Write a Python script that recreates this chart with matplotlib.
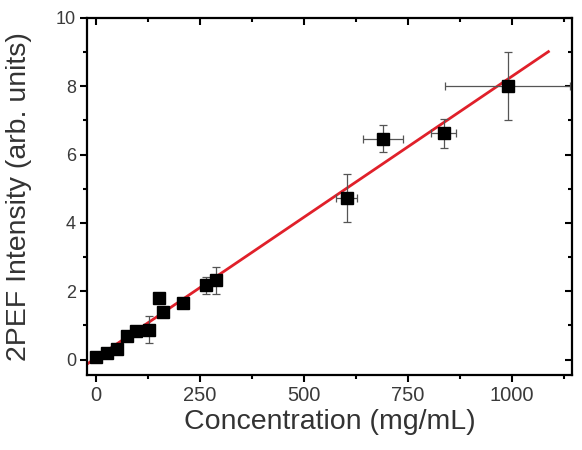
import numpy as np
import matplotlib
matplotlib.use('Agg')
import matplotlib.pyplot as plt
from matplotlib.ticker import MultipleLocator

plt.rcParams['font.family'] = ['Liberation Sans', 'DejaVu Sans']

# measured data (concentration in mg/mL, 2PEF intensity)
conc = [0, 25, 49, 75, 97, 126, 150, 162, 210, 265, 289, 603, 690, 836, 990]
intensity = [0.08, 0.2, 0.32, 0.68, 0.85, 0.88, 1.8, 1.4, 1.65, 2.18, 2.32, 4.74, 6.47, 6.62, 8.0]
conc_err = [0, 0, 0, 0, 0, 0, 0, 0, 0, 0, 0, 25, 47, 30, 150]
int_err = [0, 0, 0, 0.1, 0, 0.4, 0, 0, 0, 0.25, 0.4, 0.7, 0.4, 0.43, 1.0]

# linear fit
slope = 0.00824
intercept = 0.05
fit_x = [-25, 1088]

fig = plt.figure(figsize=(5.82, 4.5), dpi=100)
ax = fig.add_axes([0.1495, 0.1667, 0.8335, 0.7933])

xs = np.array(fit_x)
ax.plot(xs, intercept + slope * xs, color='#e0202a', lw=2, zorder=2)

ax.errorbar(conc, intensity, xerr=conc_err, yerr=int_err, fmt='none',
            ecolor='#555555', elinewidth=0.9, capsize=3, capthick=0.9, zorder=3)
ax.plot(conc, intensity, 's', color='black', ms=8, zorder=4)

ax.set_xlim(-22, 1145)
ax.set_ylim(-0.45, 10)
ax.xaxis.set_major_locator(MultipleLocator(250))
ax.xaxis.set_minor_locator(MultipleLocator(125))
ax.yaxis.set_major_locator(MultipleLocator(2))
ax.yaxis.set_minor_locator(MultipleLocator(1))

ax.tick_params(which='both', direction='out', width=1.5, colors='black',
               labelcolor='#3a3a3a')
ax.tick_params(axis='x', labelsize=14.5, pad=3)
ax.tick_params(axis='y', labelsize=13, pad=3)
ax.tick_params(which='major', length=5)
ax.tick_params(which='minor', length=3)
ax.tick_params(which='both', top=True, right=True)
for s in ax.spines.values():
    s.set_linewidth(1.6)

# top and right ticks point inward
for t in ax.xaxis.get_major_ticks() + ax.xaxis.get_minor_ticks():
    t.tick2line.set_marker(3)
for t in ax.yaxis.get_major_ticks() + ax.yaxis.get_minor_ticks():
    t.tick2line.set_marker(0)

ax.set_xlabel('Concentration (mg/mL)', fontsize=20.5, color='#333333', labelpad=3)
ax.set_ylabel('2PEF Intensity (arb. units)', fontsize=20.5, color='#333333', labelpad=17)

fig.savefig('out.png', dpi=100)
